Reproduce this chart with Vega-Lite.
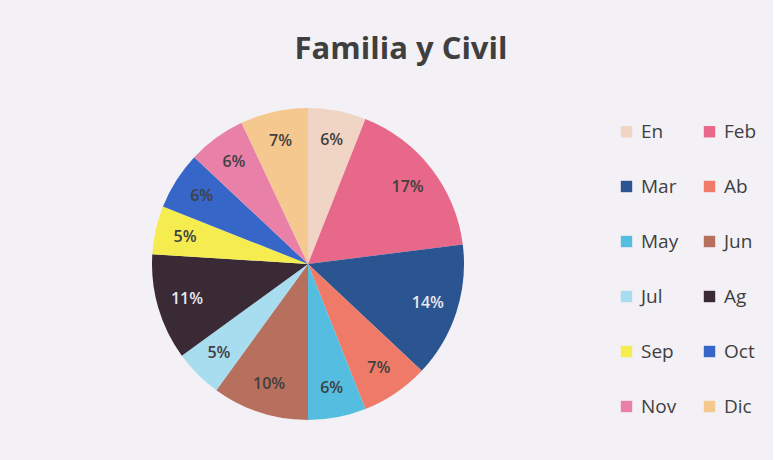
{
  "$schema": "https://vega.github.io/schema/vega-lite/v6.json",
  "width": 334,
  "height": 300,
  "padding": {"left": 141, "top": 34, "right": 16, "bottom": 49},
  "background": "#F3F1F6",
  "title": {
    "text": "Familia y Civil",
    "font": "Open Sans",
    "fontSize": 31,
    "fontWeight": "bold",
    "color": "#3F3F3F",
    "anchor": "middle",
    "dx": 93,
    "offset": 42
  },
  "data": {
    "values": [
      {"mes": "En", "idx": 1, "pct": 0.06},
      {"mes": "Feb", "idx": 2, "pct": 0.17},
      {"mes": "Mar", "idx": 3, "pct": 0.14},
      {"mes": "Ab", "idx": 4, "pct": 0.07},
      {"mes": "May", "idx": 5, "pct": 0.06},
      {"mes": "Jun", "idx": 6, "pct": 0.10},
      {"mes": "Jul", "idx": 7, "pct": 0.05},
      {"mes": "Ag", "idx": 8, "pct": 0.11},
      {"mes": "Sep", "idx": 9, "pct": 0.05},
      {"mes": "Oct", "idx": 10, "pct": 0.06},
      {"mes": "Nov", "idx": 11, "pct": 0.06},
      {"mes": "Dic", "idx": 12, "pct": 0.07}
    ]
  },
  "encoding": {
    "theta": {"field": "pct", "type": "quantitative", "stack": true},
    "order": {"field": "idx", "type": "quantitative"}
  },
  "layer": [
    {
      "mark": {"type": "arc", "outerRadius": 156},
      "encoding": {
        "color": {
          "field": "mes",
          "type": "nominal",
          "sort": ["En", "Feb", "Mar", "Ab", "May", "Jun", "Jul", "Ag", "Sep", "Oct", "Nov", "Dic"],
          "scale": {
            "domain": ["En", "Feb", "Mar", "Ab", "May", "Jun", "Jul", "Ag", "Sep", "Oct", "Nov", "Dic"],
            "range": ["#F0D4C4", "#E8688A", "#2B5590", "#F07A68", "#55BEE0", "#B8705E", "#A8DDF0", "#3A2A36", "#F5EC50", "#3566C8", "#E880A8", "#F5C890"]
          },
          "legend": {
            "title": null,
            "orient": "none",
            "legendX": 476,
            "legendY": 8,
            "columns": 2,
            "direction": "horizontal",
            "symbolType": "square",
            "symbolSize": 130,
            "symbolStrokeWidth": 0,
            "labelFont": "Open Sans",
            "labelFontSize": 19,
            "labelColor": "#3F3F3F",
            "labelOffset": 5,
            "rowPadding": 35,
            "columnPadding": 21,
            "padding": 0
          }
        }
      }
    },
    {
      "mark": {"type": "text", "radius": 126, "font": "Open Sans", "fontSize": 16, "fontWeight": 600},
      "encoding": {
        "text": {"field": "pct", "type": "quantitative", "format": ".0%"},
        "color": {
          "condition": {"test": "datum.mes === 'Mar' || datum.mes === 'Ag'", "value": "#E8E8F0"},
          "value": "#404040"
        }
      }
    }
  ]
}
